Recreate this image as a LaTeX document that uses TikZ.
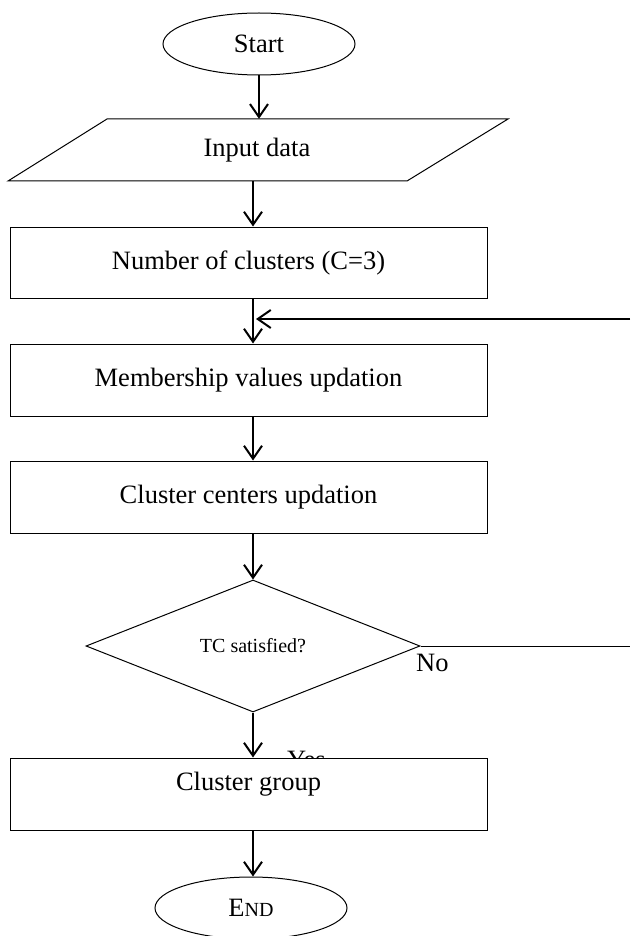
\documentclass[tikz,border=0pt]{standalone}
\usepackage{fontspec}
\setmainfont{Liberation Serif}
\usetikzlibrary{shapes.geometric,arrows.meta}
\begin{document}
\begin{tikzpicture}[x=1pt,y=-1pt,
  every node/.style={font=\fontsize{26.5}{30}\selectfont},
  procbox/.style={draw, line width=1pt, fill=white, minimum width=477pt, minimum height=71pt, inner sep=0pt},
  term/.style={draw, ellipse, line width=1pt, fill=white, minimum width=192pt, minimum height=62pt, inner sep=0pt},
  decision/.style={draw, diamond, aspect=2.5, line width=1pt, minimum width=334pt, minimum height=132pt, inner sep=0pt, font=\fontsize{20}{24}\selectfont},
  flow/.style={line width=2pt, -{Straight Barb[length=13pt,width=18pt,line width=2pt]}},
  thinline/.style={line width=1pt},
  plain/.style={inner sep=0pt}]
\useasboundingbox (0,0) rectangle (630,936);
\fill[white] (0,0) rectangle (630,936);
\coordinate (ax) at (253,0);
\coordinate (re) at (630,0);

\node[term] (start) at (259,44) {Start};

\draw[thinline] (107,119) -- (508,119) -- (407,181) -- (8,181) -- cycle;
\node[plain, minimum height=62pt, minimum width=300pt] (input) at (257,150) {Input data};

\node[procbox] (ncl) at (248.5,262.5) {Number of clusters (C=3)};
\node[procbox, minimum height=72pt] (memb) at (248.5,380) {Membership values updation};
\node[procbox, minimum height=72pt] (cent) at (248.5,497) {Cluster centers updation};
\node[decision] (dia) at (253,646) {TC satisfied?};

\node[plain, anchor=base west] (yes) at (287,768) {Yes};
\node[procbox, minimum height=72pt] (grp) at (248.5,794) {};
\node[plain] (grptext) at ([yshift=10pt]grp.center) {Cluster group};

\node[term] (end) at (251,908) {E{\fontsize{20}{24}\selectfont ND}};

\node[plain, anchor=base west] (no) at (416,671) {No};

\coordinate (fb) at (630,319);

\draw[flow] (start.south) -- (start.south |- input.north);
\draw[flow] (input.south -| ax) -- (ncl.north -| ax);
\draw[flow] (ncl.south -| ax) -- (memb.north -| ax);
\draw[flow] (fb) -- ([xshift=3pt]fb -| ax);
\draw[flow] (memb.south -| ax) -- (cent.north -| ax);
\draw[flow] (cent.south -| ax) -- (dia.north);
\draw[thinline] (dia.east) -- (dia.east -| re);
\draw[flow] (dia.south) -- (grp.north -| ax);
\draw[flow] (grp.south -| ax) -- (end.north -| ax);
\end{tikzpicture}
\end{document}
